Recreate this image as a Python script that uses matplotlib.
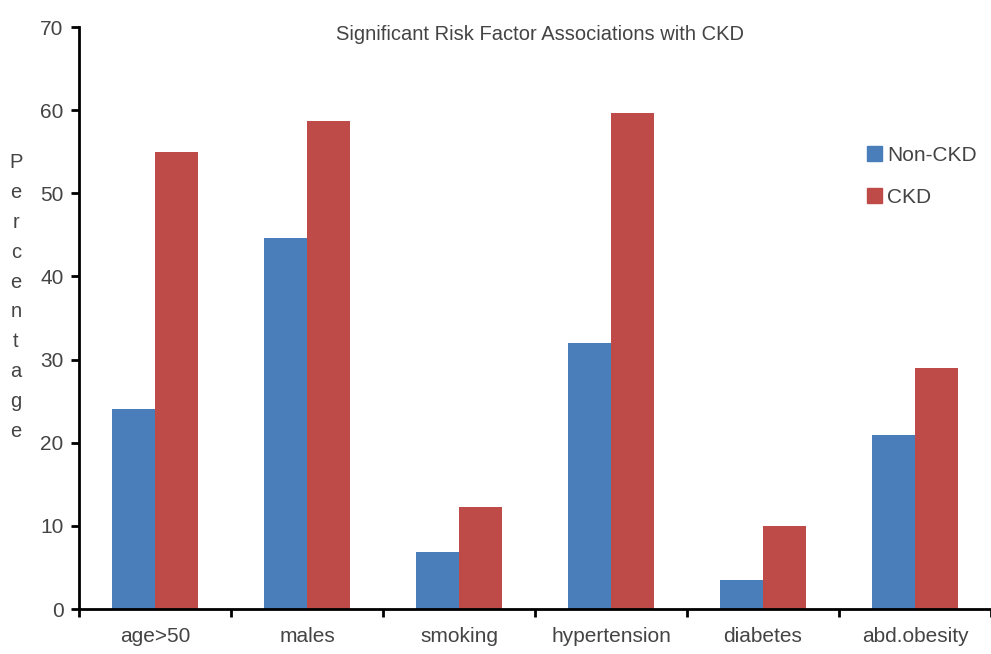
import numpy as np
import matplotlib.pyplot as plt
from matplotlib.patches import Patch

categories = ['age>50', 'males', 'smoking', 'hypertension', 'diabetes', 'abd.obesity']
non_ckd = [24, 44.6, 6.9, 32, 3.5, 20.9]
ckd = [55, 58.7, 12.3, 59.7, 10, 29]

blue = '#4a7ebb'
red = '#be4b48'
grey = '#444444'

plt.rcParams['font.family'] = ['Liberation Sans', 'DejaVu Sans']

fig = plt.figure(figsize=(9.91, 6.54), dpi=100)
ax = fig.add_axes([0.0797, 0.0688, 0.9203, 0.8899])

x = np.arange(len(categories))
w = 0.285
ax.bar(x - w / 2, non_ckd, w, color=blue, label='Non-CKD')
ax.bar(x + w / 2, ckd, w, color=red, label='CKD')

ax.set_xlim(-0.5, len(categories) - 0.5)
ax.set_ylim(0, 70)
ax.set_yticks(range(0, 71, 10))
ax.set_xticks(x)
ax.set_xticklabels(categories, fontsize=15, color=grey)
ax.set_xticks(np.arange(-0.5, len(categories), 1), minor=True)
ax.tick_params(axis='x', which='major', length=0, pad=13)
ax.tick_params(axis='x', which='minor', length=6, width=2, direction='out')
ax.tick_params(axis='y', length=6, width=2, labelsize=15, labelcolor=grey, pad=5)

for s in ['top', 'right']:
    ax.spines[s].set_visible(False)
for s in ['left', 'bottom']:
    ax.spines[s].set_linewidth(2)
    ax.spines[s].set_color('black')

fig.text(0.545, 0.948, 'Significant Risk Factor Associations with CKD',
         ha='center', va='center', fontsize=14.5, color=grey)

fig.text(0.016, 0.546, '\n'.join('Percentage'), ha='center', va='center',
         fontsize=14.5, color=grey, linespacing=1.72)

handles = [Patch(color=blue, label='Non-CKD'), Patch(color=red, label='CKD')]
fig.legend(handles=handles, loc='upper left', bbox_to_anchor=(0.856, 0.806),
           frameon=False, fontsize=15, handlelength=0.7, handleheight=0.7,
           handletextpad=0.25, labelspacing=1.1, labelcolor=grey)

fig.savefig('out.png', dpi=100)
